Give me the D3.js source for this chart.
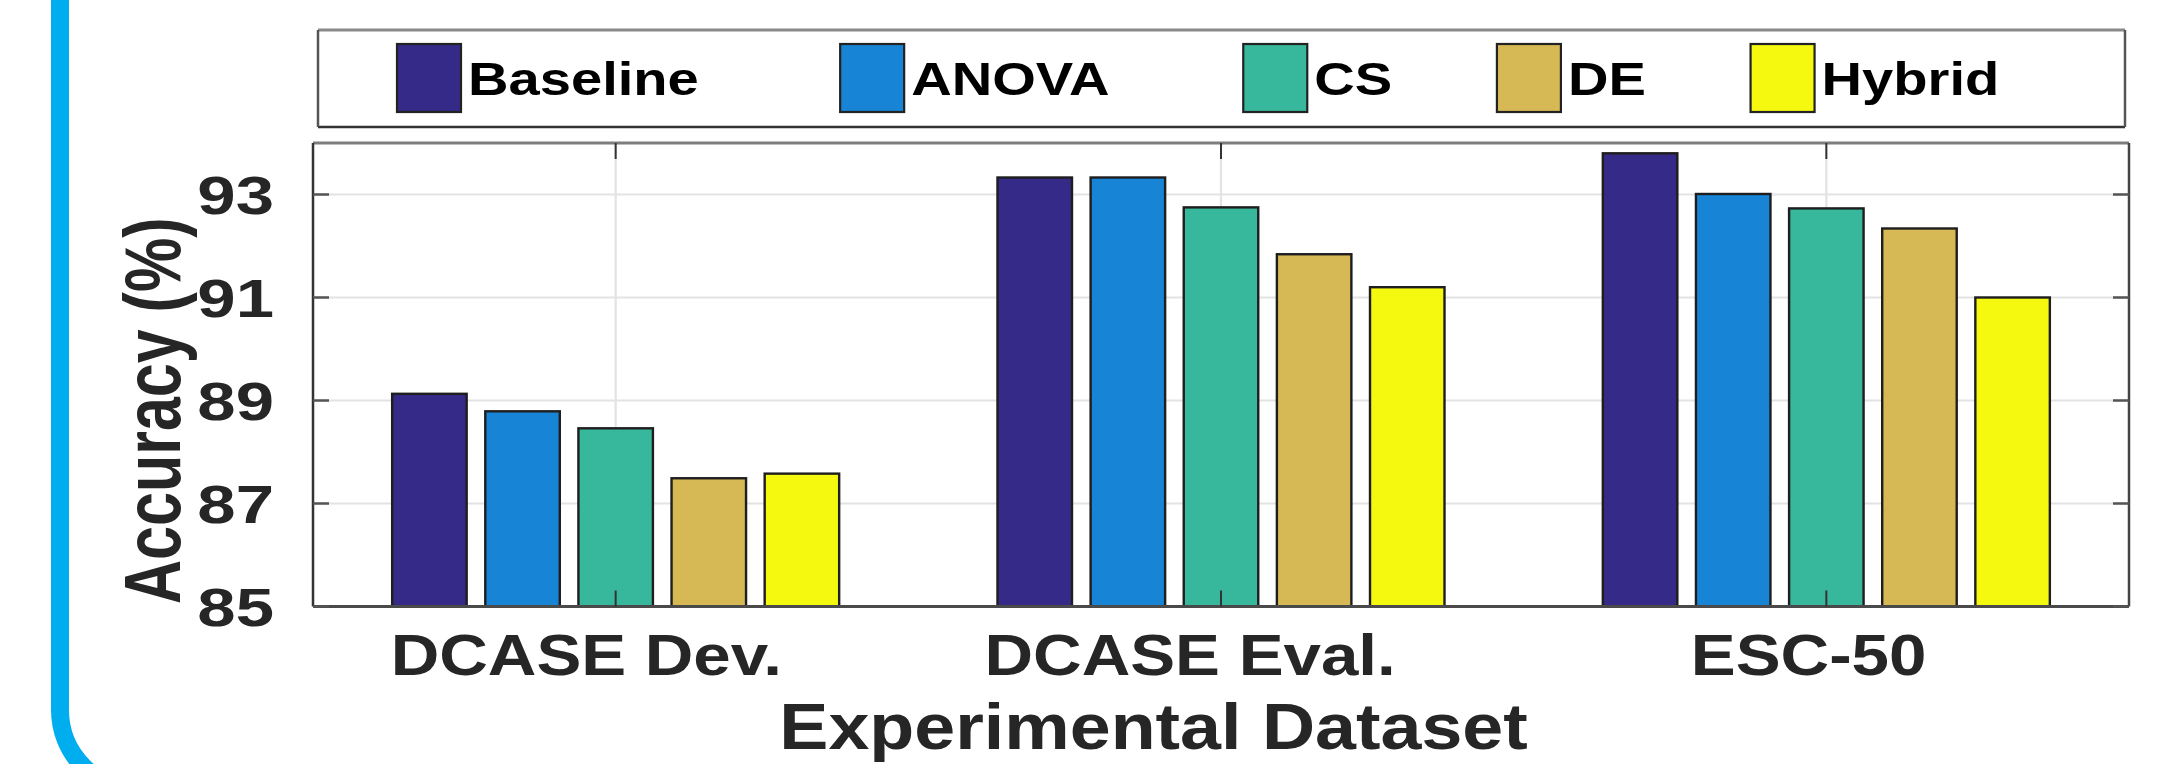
<!DOCTYPE html>
<html>
<head>
<meta charset="utf-8">
<script src="https://cdn.jsdelivr.net/npm/d3@7"></script>
<style>
  html, body { margin: 0; padding: 0; background: #fff; }
  svg { display: block; }
  text { font-family: "Liberation Sans", Arial, Helvetica, sans-serif; font-weight: bold; }
</style>
</head>
<body>
<script>
// ---- data ----
const categories = ["DCASE Dev.", "DCASE Eval.", "ESC-50"];
const methods = ["Baseline", "ANOVA", "CS", "DE", "Hybrid"];
const baselineAcc = [89.13, 93.33, 93.80];
const anovaAcc    = [88.79, 93.33, 93.01];
const csAcc       = [88.46, 92.75, 92.73];
const deAcc       = [87.49, 91.84, 92.34];
const hybridAcc   = [87.58, 91.20, 91.00];
const yTicks = [85, 87, 89, 91, 93];
const yDomain = [85, 94];
const methodColors = ["#352a87", "#1784d6", "#37b79b", "#d6b955", "#f4f90f"];
const yTitle = "Accuracy (%)";
const xTitle = "Experimental Dataset";

const seriesValues = [baselineAcc, anovaAcc, csAcc, deAcc, hybridAcc];

// ---- layout ----
const W = 2157, H = 764;
const plot = { left: 313, right: 2129, top: 143, bottom: 606.5 };
const textColor = "#262626";

const svg = d3.select("body").append("svg").attr("width", W).attr("height", H);

// rounded cyan frame on the left
svg.append("path")
  .attr("d", "M60,-20 L60,710 A80,80 0 0 0 140,790 L2300,790")
  .attr("fill", "none").attr("stroke", "#00aeef").attr("stroke-width", 18);

const x = d3.scaleBand().domain(categories).range([plot.left, plot.right]).padding(0);
const groupW = x.bandwidth() * methods.length / (methods.length + 1.5);
const xInner = d3.scaleBand().domain(methods).range([0, groupW]).paddingInner(0.2).paddingOuter(0.1);
const y = d3.scaleLinear().domain(yDomain).range([plot.bottom, plot.top]);
const color = d3.scaleOrdinal().domain(methods).range(methodColors);

// grid
const grid = svg.append("g");
grid.selectAll("line.h").data(yTicks.filter(t => t > yDomain[0])).join("line")
  .attr("x1", plot.left).attr("x2", plot.right)
  .attr("y1", d => y(d)).attr("y2", d => y(d))
  .attr("stroke", "#e3e3e3").attr("stroke-width", 2.2);
grid.selectAll("line.v").data(categories).join("line")
  .attr("x1", d => x(d) + x.bandwidth() / 2).attr("x2", d => x(d) + x.bandwidth() / 2)
  .attr("y1", plot.top).attr("y2", plot.bottom)
  .attr("stroke", "#e3e3e3").attr("stroke-width", 2.2);

// bars
const rows = [];
categories.forEach((c, ci) => methods.forEach((m, mi) => rows.push({ c, m, v: seriesValues[mi][ci] })));
const off = (x.bandwidth() - groupW) / 2;
svg.append("g").selectAll("rect").data(rows).join("rect")
  .attr("x", d => x(d.c) + off + xInner(d.m))
  .attr("width", xInner.bandwidth())
  .attr("y", d => y(d.v))
  .attr("height", d => y(yDomain[0]) - y(d.v))
  .attr("fill", d => color(d.m))
  .attr("stroke", "#1e1e1e").attr("stroke-width", 2.4);

// axes box
const box = svg.append("g");
box.append("line").attr("x1", plot.left).attr("x2", plot.right).attr("y1", plot.top).attr("y2", plot.top)
  .attr("stroke", "#7d7d7d").attr("stroke-width", 3);
box.append("line").attr("x1", plot.left).attr("x2", plot.right).attr("y1", plot.bottom).attr("y2", plot.bottom)
  .attr("stroke", "#4a4a4a").attr("stroke-width", 3);
box.append("line").attr("x1", plot.left).attr("x2", plot.left).attr("y1", plot.top).attr("y2", plot.bottom)
  .attr("stroke", "#333").attr("stroke-width", 2.5);
box.append("line").attr("x1", plot.right).attr("x2", plot.right).attr("y1", plot.top).attr("y2", plot.bottom)
  .attr("stroke", "#444").attr("stroke-width", 2.5);

// ticks (inward)
const tickLen = 16;
box.selectAll("line.yl").data(yTicks).join("line")
  .attr("x1", plot.left).attr("x2", plot.left + tickLen).attr("y1", d => y(d)).attr("y2", d => y(d))
  .attr("stroke", "#555").attr("stroke-width", 2.5);
box.selectAll("line.yr").data(yTicks).join("line")
  .attr("x1", plot.right).attr("x2", plot.right - tickLen).attr("y1", d => y(d)).attr("y2", d => y(d))
  .attr("stroke", "#555").attr("stroke-width", 2.5);
box.selectAll("line.xt").data(categories).join("line")
  .attr("x1", d => x(d) + x.bandwidth() / 2).attr("x2", d => x(d) + x.bandwidth() / 2)
  .attr("y1", plot.top).attr("y2", plot.top + tickLen)
  .attr("stroke", "#333").attr("stroke-width", 2);
box.selectAll("line.xb").data(categories).join("line")
  .attr("x1", d => x(d) + x.bandwidth() / 2).attr("x2", d => x(d) + x.bandwidth() / 2)
  .attr("y1", plot.bottom).attr("y2", plot.bottom - tickLen)
  .attr("stroke", "#333").attr("stroke-width", 2);

// y tick labels
const ySx = 1.3;
svg.append("g").selectAll("text").data(yTicks).join("text")
  .attr("transform", d => `translate(274,${y(d)}) scale(${ySx},1)`)
  .attr("text-anchor", "end").attr("dy", "0.37em")
  .attr("font-size", 53).attr("fill", textColor)
  .text(d => d);

// x tick labels
const xSx = 1.16, spread = 1.15;
svg.append("g").selectAll("text").data(categories).join("text")
  .attr("font-size", 58).attr("fill", textColor)
  .text(d => d)
  .attr("transform", function (d) {
    const w = this.getComputedTextLength() * xSx;
    const cx = x(d) + x.bandwidth() / 2;
    return `translate(${cx - spread * w / 2},675) scale(${xSx},1)`;
  });

// x axis title
svg.append("text")
  .attr("font-size", 64).attr("fill", textColor)
  .text(xTitle)
  .attr("transform", function () {
    const w = this.getComputedTextLength() * 1.15;
    const cx = (plot.left + plot.right) / 2;
    return `translate(${cx - 1.18 * w / 2},749) scale(1.15,1)`;
  });

// y axis title
svg.append("text")
  .attr("font-size", 61).attr("fill", textColor)
  .attr("transform", "translate(180,604) rotate(-90) scale(1,1.3)")
  .text(yTitle);

// legend
const leg = { left: 318, right: 2125, top: 30, bottom: 127 };
const lg = svg.append("g");
lg.append("rect").attr("x", leg.left).attr("y", leg.top)
  .attr("width", leg.right - leg.left).attr("height", leg.bottom - leg.top)
  .attr("fill", "#fff").attr("stroke", "none");
lg.append("line").attr("x1", leg.left).attr("x2", leg.right).attr("y1", leg.top).attr("y2", leg.top)
  .attr("stroke", "#8a8a8a").attr("stroke-width", 3);
lg.append("line").attr("x1", leg.left).attr("x2", leg.right).attr("y1", leg.bottom).attr("y2", leg.bottom)
  .attr("stroke", "#333").attr("stroke-width", 2.5);
lg.append("line").attr("x1", leg.left).attr("x2", leg.left).attr("y1", leg.top).attr("y2", leg.bottom)
  .attr("stroke", "#555").attr("stroke-width", 2.5);
lg.append("line").attr("x1", leg.right).attr("x2", leg.right).attr("y1", leg.top).attr("y2", leg.bottom)
  .attr("stroke", "#555").attr("stroke-width", 2.5);

const legSx = 1.22, swW = 64, swTop = 44, swH = 68, textGap = 71, itemGap = 86;
let cursor = 397;
methods.forEach(m => {
  const item = lg.append("g");
  item.append("rect").attr("x", cursor).attr("y", swTop).attr("width", swW).attr("height", swH)
    .attr("fill", color(m)).attr("stroke", "#222").attr("stroke-width", 2.2);
  const t = item.append("text")
    .attr("font-size", 46).attr("fill", "#000")
    .attr("transform", `translate(${cursor + textGap},95) scale(${legSx},1)`)
    .text(m);
  const w = t.node().getComputedTextLength() * legSx;
  cursor += textGap + 1.24 * w + itemGap;
});
</script>
</body>
</html>
